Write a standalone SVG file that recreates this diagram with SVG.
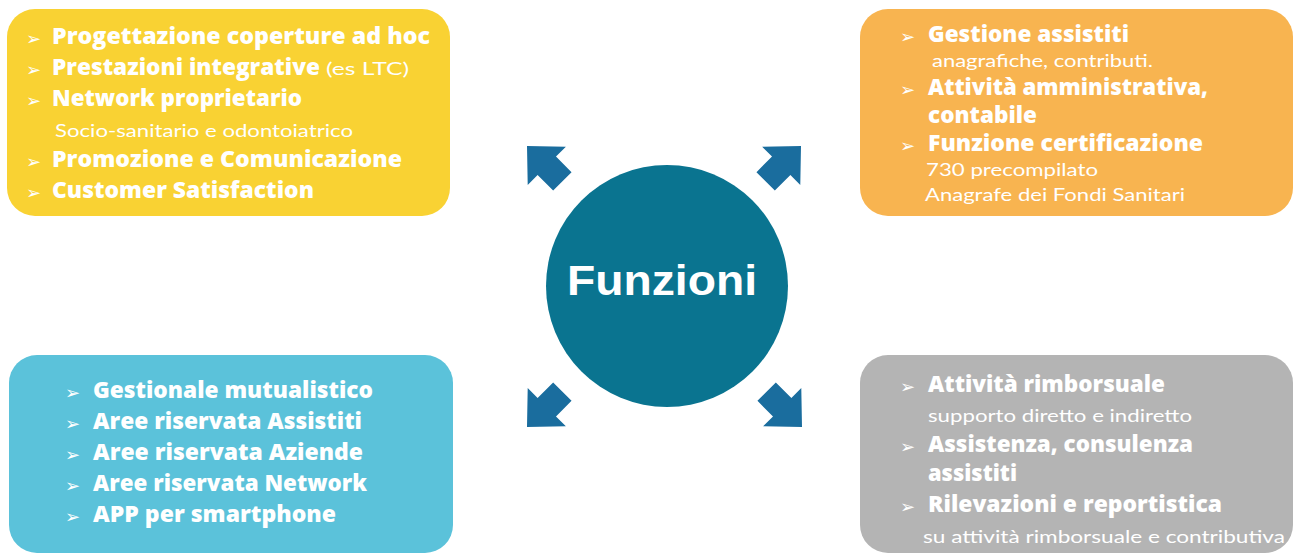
<svg xmlns="http://www.w3.org/2000/svg" xmlns:xlink="http://www.w3.org/1999/xlink" width="1293" height="554" viewBox="0 0 1293 554">
<style>
.b{font-family:"Open Sans",Lato,"DejaVu Sans",sans-serif;font-weight:800;font-size:22px;fill:#fff}
.r{font-family:Lato,"Open Sans","DejaVu Sans",sans-serif;font-weight:400;font-size:17px;fill:#fff}
.bl{font-family:"DejaVu Sans",sans-serif;font-size:18px;fill:#fff}
.c{font-family:"Liberation Sans",Arial,sans-serif;font-weight:700;font-size:43px;fill:#fff}
.arr{fill:#1a6d9e}
</style>
<defs>
<polygon id="ar" points="0,-13 22,-13 22,-27 50,0 22,27 22,13 0,13"/>
</defs>
<rect width="1293" height="554" fill="#fff"/>
<g id="connectors">
<use xlink:href="#ar" class="arr" transform="translate(527,146) rotate(225) translate(-50,0)"/>
<use xlink:href="#ar" class="arr" transform="translate(801,146) rotate(-45) translate(-50,0)"/>
<use xlink:href="#ar" class="arr" transform="translate(527,427) rotate(135) translate(-50,0)"/>
<use xlink:href="#ar" class="arr" transform="translate(802,427) rotate(45) translate(-50,0)"/>
</g>
<g id="center">
<circle cx="667" cy="286" r="121" fill="#0a7490"/>
<text class="c" x="567" y="295" textLength="190" lengthAdjust="spacingAndGlyphs">Funzioni</text>
</g>
<g id="box-tl">
<rect x="7" y="9" width="443" height="207" rx="28" fill="#f9d233"/>
<text class="bl" x="26" y="45">➢</text>
<text class="b" x="52" y="44" textLength="378" lengthAdjust="spacingAndGlyphs">Progettazione coperture ad hoc</text>
<text class="bl" x="26" y="76">➢</text>
<text class="b" x="52" y="75" textLength="268" lengthAdjust="spacingAndGlyphs">Prestazioni integrative</text>
<text class="r" x="326" y="75" textLength="83" lengthAdjust="spacingAndGlyphs">(es LTC)</text>
<text class="bl" x="26" y="107">➢</text>
<text class="b" x="52" y="106" textLength="250" lengthAdjust="spacingAndGlyphs">Network proprietario</text>
<text class="r" x="55" y="137" textLength="298" lengthAdjust="spacingAndGlyphs">Socio-sanitario e odontoiatrico</text>
<text class="bl" x="26" y="168">➢</text>
<text class="b" x="52" y="167" textLength="350" lengthAdjust="spacingAndGlyphs">Promozione e Comunicazione</text>
<text class="bl" x="26" y="199">➢</text>
<text class="b" x="52" y="198" textLength="262" lengthAdjust="spacingAndGlyphs">Customer Satisfaction</text>
</g>
<g id="box-tr">
<rect x="860" y="9" width="433" height="207" rx="28" fill="#f8b450"/>
<text class="bl" x="900" y="43">➢</text>
<text class="b" x="928" y="42" textLength="201" lengthAdjust="spacingAndGlyphs">Gestione assistiti</text>
<text class="r" x="932" y="67" textLength="221" lengthAdjust="spacingAndGlyphs">anagrafiche, contributi.</text>
<text class="bl" x="900" y="96">➢</text>
<text class="b" x="928" y="95" textLength="280" lengthAdjust="spacingAndGlyphs">Attività amministrativa,</text>
<text class="b" x="928" y="123" textLength="109" lengthAdjust="spacingAndGlyphs">contabile</text>
<text class="bl" x="900" y="152">➢</text>
<text class="b" x="928" y="151" textLength="275" lengthAdjust="spacingAndGlyphs">Funzione certificazione</text>
<text class="r" x="926" y="176" textLength="172" lengthAdjust="spacingAndGlyphs">730 precompilato</text>
<text class="r" x="925" y="201" textLength="260" lengthAdjust="spacingAndGlyphs">Anagrafe dei Fondi Sanitari</text>
</g>
<g id="box-bl">
<rect x="9" y="355" width="444" height="198" rx="28" fill="#5bc2da"/>
<text class="bl" x="65" y="399">➢</text>
<text class="b" x="93" y="398" textLength="280" lengthAdjust="spacingAndGlyphs">Gestionale mutualistico</text>
<text class="bl" x="65" y="430">➢</text>
<text class="b" x="93" y="429" textLength="269" lengthAdjust="spacingAndGlyphs">Aree riservata Assistiti</text>
<text class="bl" x="65" y="461">➢</text>
<text class="b" x="93" y="460" textLength="270" lengthAdjust="spacingAndGlyphs">Aree riservata Aziende</text>
<text class="bl" x="65" y="492">➢</text>
<text class="b" x="93" y="491" textLength="274" lengthAdjust="spacingAndGlyphs">Aree riservata Network</text>
<text class="bl" x="65" y="523">➢</text>
<text class="b" x="93" y="522" textLength="243" lengthAdjust="spacingAndGlyphs">APP per smartphone</text>
</g>
<g id="box-br">
<rect x="860" y="355" width="433" height="198" rx="28" fill="#b4b4b4"/>
<text class="bl" x="900" y="393">➢</text>
<text class="b" x="928" y="392" textLength="237" lengthAdjust="spacingAndGlyphs">Attività rimborsuale</text>
<text class="r" x="928" y="422" textLength="264" lengthAdjust="spacingAndGlyphs">supporto diretto e indiretto</text>
<text class="bl" x="900" y="453">➢</text>
<text class="b" x="928" y="452" textLength="265" lengthAdjust="spacingAndGlyphs">Assistenza, consulenza</text>
<text class="b" x="928" y="481" textLength="89" lengthAdjust="spacingAndGlyphs">assistiti</text>
<text class="bl" x="900" y="513">➢</text>
<text class="b" x="928" y="512" textLength="294" lengthAdjust="spacingAndGlyphs">Rilevazioni e reportistica</text>
<text class="r" x="923" y="543" textLength="362" lengthAdjust="spacingAndGlyphs">su attività rimborsuale e contributiva</text>
</g>
</svg>
